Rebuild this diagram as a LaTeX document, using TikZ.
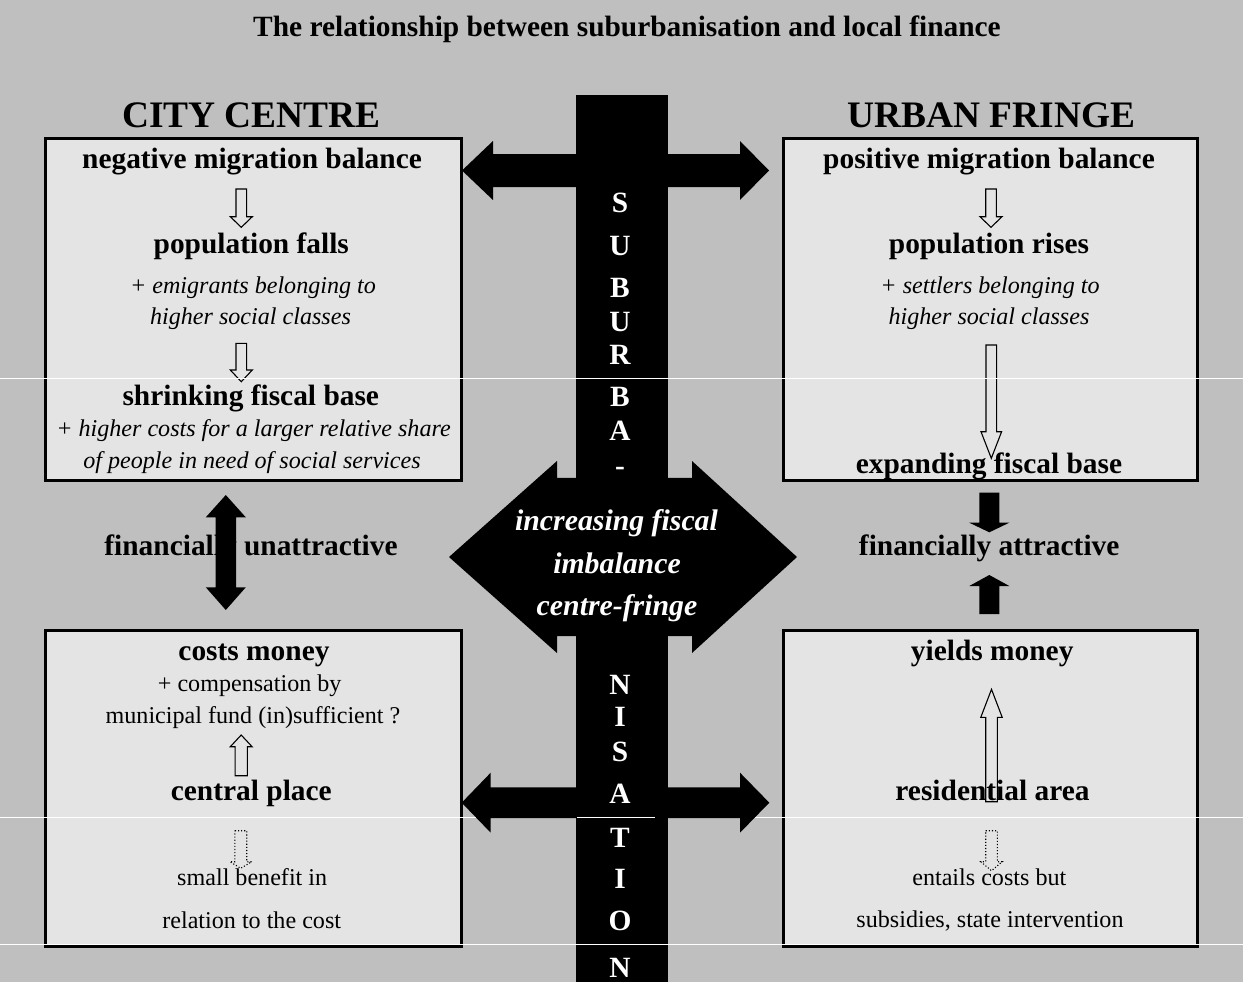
\documentclass[tikz,border=0pt]{standalone}
\usepackage{fontspec}
\setmainfont{Liberation Serif}
\definecolor{bg}{HTML}{BFBFBF}
\definecolor{boxfill}{HTML}{E4E4E4}
% vertical block arrow: x, shaft half, head half, tail y, head-base y, tip y, style
\newcommand{\varr}[7]{\path[#7] ({#1-#2},#4) -- ({#1+#2},#4) -- ({#1+#2},#5) -- ({#1+#3},#5) -- (#1,#6) -- ({#1-#3},#5) -- ({#1-#2},#5) -- cycle;}
% horizontal double block arrow: left tip, left base, right base, right tip, yc, shaft half, head half
\newcommand{\dharr}[7]{\path[fill=black] (#1,#5) -- (#2,{#5-#7}) -- (#2,{#5-#6}) -- (#3,{#5-#6}) -- (#3,{#5-#7}) -- (#4,#5) -- (#3,{#5+#7}) -- (#3,{#5+#6}) -- (#2,{#5+#6}) -- (#2,{#5+#7}) -- cycle;}
\begin{document}
\begin{tikzpicture}[x=1pt,y=-1pt,
  hd/.style={font=\fontsize{29.4}{29}\selectfont\bfseries, anchor=base, inner sep=0pt},
  big/.style={font=\fontsize{37.4}{37}\selectfont\bfseries, anchor=base, inner sep=0pt},
  itx/.style={font=\fontsize{24.1}{24}\selectfont\itshape, anchor=base, inner sep=0pt},
  rmx/.style={font=\fontsize{24.1}{24}\selectfont, anchor=base, inner sep=0pt},
  lett/.style={font=\fontsize{29.4}{29}\selectfont\bfseries, text=white, anchor=base, inner sep=0pt},
  ctr/.style={font=\fontsize{29.8}{29}\selectfont\bfseries\itshape, text=white, anchor=base, inner sep=0pt},
  panel/.style={draw=black, line width=3pt, fill=boxfill, inner sep=0pt},
  hollow/.style={draw=black, line width=1.1pt},
  dotarr/.style={draw=black, line width=1.1pt, dotted},
  blk/.style={fill=black},
  seam/.style={draw=white, line width=1pt}]
\useasboundingbox (0,0) rectangle (1243,982);
\fill[bg] (0,0) rectangle (1243,982);

% panels
\node[panel, minimum width=416pt, minimum height=341.3pt] (b1) at (253.3,309.35) {};
\node[panel, minimum width=414pt, minimum height=341.3pt] (b2) at (990.3,309.35) {};
\node[panel, minimum width=416.7pt, minimum height=316pt] (b3) at (253.35,788.7) {};
\node[panel, minimum width=414pt, minimum height=316pt] (b4) at (990.3,788.7) {};

% titles
\node[hd] (title) at (627,37) {The relationship between suburbanisation and local finance};
\node[big] (cc) at (251.5,128) {CITY CENTRE};
\node[big] (uf) at (991.5,128) {URBAN FRINGE};

% left top panel
\node[hd] (t1) at (252,168.3) {negative migration balance};
\node[hd] (t2) at (251.3,253.3) {population falls};
\node[itx] (t3) at (253,293.3) {+ emigrants belonging to};
\node[itx] (t4) at (250.5,324) {higher social classes};
\node[hd] (t5) at (250.8,405) {shrinking fiscal base};
\node[itx] (t6) at (253.5,436.7) {+ higher costs for a larger relative share};
\node[itx] (t7) at (252,468.3) {of people in need of social services};
\varr{241.3}{5.3}{11}{189}{216.7}{227.3}{hollow}
\varr{241.3}{5.3}{11}{343.3}{370}{381.7}{hollow}

% right top panel
\node[hd] (r1) at (989,168.3) {positive migration balance};
\node[hd] (r2) at (989,253.3) {population rises};
\node[itx] (r3) at (990,293.3) {+ settlers belonging to};
\node[itx] (r4) at (989,324) {higher social classes};
\node[hd] (r5) at (989,473.3) {expanding fiscal base};
\varr{991}{5.3}{11}{189}{216.7}{227.3}{hollow}
\varr{991.3}{5.3}{10.3}{345}{431.7}{458.3}{hollow}

% middle row
\node[hd] (fu) at (251,555) {financially unattractive};
\node[hd] (fa) at (989.2,555) {financially attractive};
\path[blk] (225.8,495) -- (245.8,517.3) -- (236,517.3) -- (236,587.3) -- (245.8,587.3) -- (225.8,610) -- (205.8,587.3) -- (215.6,587.3) -- (215.6,517.3) -- (205.8,517.3) -- cycle;
\varr{989.3}{10}{20}{492.7}{522.7}{532.3}{blk}
\varr{989.3}{10}{20}{614}{586}{575}{blk}

% left bottom panel
\node[hd] (l1) at (254,660) {costs money};
\node[rmx] (l2) at (249.7,691.7) {+ compensation by};
\node[rmx] (l3) at (253,723.3) {municipal fund (in)sufficient ?};
\node[hd] (l4) at (251.3,800.7) {central place};
\node[rmx] (l5) at (252.2,885.7) {small benefit in};
\node[rmx] (l6) at (251.7,928.3) {relation to the cost};
\varr{241.2}{6.1}{10.9}{775.7}{746.7}{735}{hollow}
\varr{240.8}{5.9}{10.9}{830.7}{861.7}{868.3}{dotarr}

% right bottom panel
\node[hd] (q1) at (992.2,660) {yields money};
\node[hd] (q2) at (992.5,800.7) {residential area};
\node[rmx] (q3) at (989.3,885.7) {entails costs but};
\node[rmx] (q4) at (990,927.3) {subsidies, state intervention};
\varr{991.5}{5.8}{10.7}{801.7}{717.3}{689.3}{hollow}
\varr{991.5}{5.8}{10.7}{830.7}{861.7}{870.7}{dotarr}

% seam under the black shapes
\draw[seam] (0,817) -- (1243,817);

% central bar and black double arrows
\fill[black] (576,95) rectangle (668,982);
\dharr{462}{493}{740}{769}{170.5}{16.5}{29.5}
\dharr{461.7}{490.7}{740}{769.3}{802.7}{15.3}{30}
\dharr{449}{557}{692}{797}{557}{79.2}{96}
\draw[seam] (577,817) -- (655,817);

% vertical word
\foreach \c/\y [count=\i] in {S/212,U/255,B/297,U/331,R/364,B/406,A/440,-/475,N/694,I/726,S/761,A/803,T/847,I/888,O/930,N/977}
  \node[lett] (v\i) at (620,\y) {\c};

% centre text
\node[ctr] (c1) at (616.5,530.7) {increasing fiscal};
\node[ctr] (c2) at (617,573.3) {imbalance};
\node[ctr] (c3) at (617,615) {centre-fringe};

% seams on top
\draw[seam] (0,378) -- (1243,378);
\draw[seam] (0,944) -- (1243,944);
\end{tikzpicture}
\end{document}
